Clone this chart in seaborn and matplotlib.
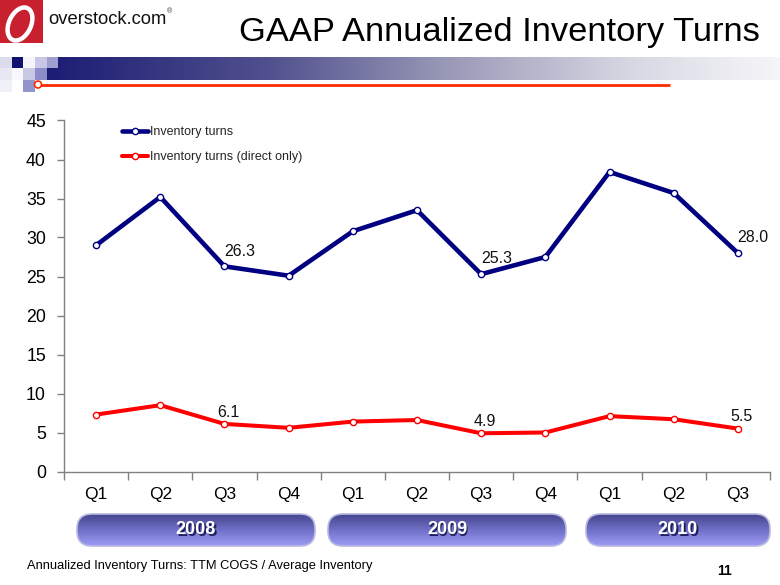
import numpy as np
import pandas as pd
import matplotlib
matplotlib.use("Agg")
import matplotlib.pyplot as plt
import seaborn as sns
from matplotlib.patches import Rectangle, Ellipse, FancyBboxPatch, Circle
from matplotlib.lines import Line2D
from matplotlib.colors import LinearSegmentedColormap

# ---------------- data ----------------
quarters = ["Q1", "Q2", "Q3", "Q4", "Q1", "Q2", "Q3", "Q4", "Q1", "Q2", "Q3"]
years = ["2008", "2009", "2010"]
inventory_turns = [29.0, 35.2, 26.3, 25.1, 30.8, 33.5, 25.3, 27.5, 38.4, 35.7, 28.0]
direct_turns = [7.3, 8.5, 6.1, 5.6, 6.4, 6.6, 4.9, 5.0, 7.1, 6.7, 5.5]
labeled_idx = [2, 6, 10]
series_names = ["Inventory turns", "Inventory turns (direct only)"]
y_ticks = [0, 5, 10, 15, 20, 25, 30, 35, 40, 45]

sns.set_theme(style="white")
plt.rcParams['font.family'] = ['Liberation Sans', 'DejaVu Sans']

W, H = 780, 585
fig = plt.figure(figsize=(7.8, 5.85), dpi=100)
fig.patch.set_facecolor('white')

# overlay axes in pixel coordinates (y down) for slide decorations
ov = fig.add_axes([0, 0, 1, 1], zorder=0)
ov.set_xlim(0, W)
ov.set_ylim(H, 0)
ov.axis('off')

# ---------------- chart ----------------
ax = fig.add_axes([64 / W, 1 - 471.5 / H, (770 - 64) / W, (471.5 - 120.5) / H], zorder=2)
ax.set_facecolor('none')

df = pd.DataFrame({
    'pos': np.arange(len(quarters)),
    series_names[0]: inventory_turns,
    series_names[1]: direct_turns,
})
long = df.melt(id_vars=['pos'], value_vars=series_names, var_name='series', value_name='value')
colors = {series_names[0]: '#000080', series_names[1]: '#FF0000'}
widths = {series_names[0]: 3.3, series_names[1]: 2.9}

for name in series_names:
    sub = long[long['series'] == name]
    sns.lineplot(data=sub, x='pos', y='value', ax=ax, color=colors[name],
                 lw=widths[name], marker='o', markersize=4.5, estimator=None,
                 legend=False)
for line, name in zip(ax.lines, series_names):
    line.set_markerfacecolor('white')
    line.set_markeredgecolor(colors[name])
    line.set_markeredgewidth(1.0)

ax.set_xlim(-0.5, len(quarters) - 0.5)
ax.set_ylim(0, 45)
ax.set_yticks(y_ticks)
ax.set_yticklabels([str(t) for t in y_ticks], fontsize=12.8, color='black')
ax.set_xticks(np.arange(len(quarters)))
ax.set_xticklabels(quarters, fontsize=12.5, color='black')
ax.set_xticks(np.arange(len(quarters) + 1) - 0.5, minor=True)
ax.tick_params(axis='x', which='major', length=0, pad=11)
ax.tick_params(axis='x', which='minor', length=6, width=1, color='#808080', direction='out', bottom=True)
ax.tick_params(axis='y', which='major', length=5, width=1, color='#808080', direction='out', left=True, pad=8)
ax.set_xlabel('')
ax.set_ylabel('')
for s in ['top', 'right']:
    ax.spines[s].set_visible(False)
for s in ['left', 'bottom']:
    ax.spines[s].set_color('#808080')
    ax.spines[s].set_linewidth(1)
ax.grid(False)

for i in labeled_idx:
    ax.annotate(f"{inventory_turns[i]:.1f}", (i, inventory_turns[i]), xytext=(11, 11),
                textcoords='offset points', ha='center', va='center', fontsize=11.5, color='#111111')
    ax.annotate(f"{direct_turns[i]:.1f}", (i, direct_turns[i]), xytext=(2.5, 8.5),
                textcoords='offset points', ha='center', va='center', fontsize=11.5, color='#111111')

handles = [Line2D([], [], color=colors[n], lw=widths[n], marker='o', markersize=4.5,
                  markerfacecolor='white', markeredgecolor=colors[n], markeredgewidth=1.0)
           for n in series_names]
ax.legend(handles, series_names, loc='upper left', bbox_to_anchor=(122 / W, 1 - 126 / H),
          bbox_transform=fig.transFigure, frameon=False, fontsize=9, handlelength=2.1,
          handletextpad=0.1, labelspacing=1.05, borderpad=0, borderaxespad=0)

# ---------------- header ----------------
ov.add_patch(Rectangle((0, 0), 43, 43, facecolor='#c8202e', edgecolor='none'))
ov.add_patch(Ellipse((20, 24), 22, 35, angle=25, facecolor='none', edgecolor='white', lw=3.2))
ov.text(48, 20, "overstock.com", fontsize=13.2, ha='left', va='center', color='#111111')
ov.text(167, 12, "®", fontsize=5, ha='left', va='center', color='#333333')
ov.text(760, 32, "GAAP Annualized Inventory Turns", fontsize=24.8, ha='right', va='center', color='black')

band_cmap = LinearSegmentedColormap.from_list(
    'band', [(0, '#1c1c74'), (0.3, '#50508e'), (0.55, '#9a9ab8'), (0.8, '#d8d8e4'), (1, '#f6f6f9')])
grad = np.linspace(0, 1, 256).reshape(1, -1)
ov.imshow(grad, cmap=band_cmap, extent=[47, 780, 80, 57], aspect='auto', zorder=1)
squares = [
    (0, 57, 12, 11, '#dcdcec'), (12, 57, 11, 11, '#101070'), (23, 57, 12, 11, '#f4f4fa'),
    (35, 57, 12, 11, '#c8c8e6'), (47, 57, 11, 11, '#a0a0d0'),
    (0, 68, 12, 12, '#e8e8f4'), (12, 68, 11, 12, '#f8f8fc'), (23, 68, 12, 12, '#c8c8e4'),
    (35, 68, 12, 12, '#8c8cc8'),
    (0, 80, 12, 12, '#f0f0f8'), (23, 80, 12, 12, '#9494cc'),
]
for x0, y0, w, h, c in squares:
    ov.add_patch(Rectangle((x0, y0), w, h, facecolor=c, edgecolor='none', zorder=2))
ov.plot([38, 670], [84.5, 84.5], color='#ff2a00', lw=2, zorder=3, solid_capstyle='butt')
ov.add_patch(Circle((38, 84.5), 3.5, facecolor='white', edgecolor='#ff2a00', lw=1.2, zorder=4))

# ---------------- year buttons ----------------
btn_cmap = LinearSegmentedColormap.from_list('btn', ['#45458e', '#7070c8', '#9c9cf4'])
btn_grad = np.linspace(0, 1, 64).reshape(-1, 1)
button_x = [(77, 315), (328, 566), (586, 770)]
for (x0, x1), yr in zip(button_x, years):
    patch = FancyBboxPatch((x0, 514), x1 - x0, 32, boxstyle="round,pad=0,rounding_size=15",
                           facecolor='none', edgecolor='#b8b8e0', lw=1.2, zorder=3)
    ov.add_patch(patch)
    im = ov.imshow(btn_grad, cmap=btn_cmap, extent=[x0, x1, 546, 514], aspect='auto', zorder=2)
    im.set_clip_path(patch)
    cx = (x0 + x1) / 2
    ov.text(cx + 1.5, 531.5, yr, fontsize=13, fontweight='bold', ha='center', va='center',
            color='#202060', zorder=4)
    ov.text(cx, 530, yr, fontsize=13, fontweight='bold', ha='center', va='center',
            color='white', zorder=5)

ov.text(27, 566, "Annualized Inventory Turns: TTM COGS / Average Inventory", fontsize=9.3,
        ha='left', va='center', color='black')
ov.text(724, 571, "11", fontsize=10, fontweight='bold', ha='center', va='center', color='black')

ov.set_xlim(0, W)
ov.set_ylim(H, 0)

fig.savefig('out.png', dpi=100, facecolor='white')
